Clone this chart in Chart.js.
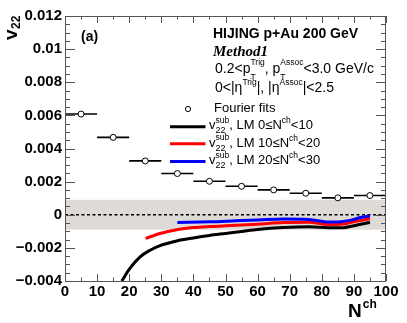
<!DOCTYPE html>
<html><head><meta charset="utf-8">
<script src="https://cdn.jsdelivr.net/npm/chart.js@4"></script>
<style>html,body{margin:0;padding:0;background:#fff;}canvas{display:block;}</style>
</head><body>
<canvas id="c" width="407" height="323"></canvas>
<script>
// ---- data ----
const fourierN = [5, 15, 25, 35, 45, 55, 65, 75, 85, 95];
const fourierV = [0.00608, 0.00467, 0.00325, 0.00249, 0.00202, 0.00172, 0.00150, 0.00130, 0.00102, 0.00116];
const fourierXErr = [5, 5, 5, 5, 5, 5, 5, 5, 5, 5];

const lm0N = [17.7, 20.2, 23.4, 26.5, 29.6, 34.8, 40, 45, 50, 55, 60, 68, 76, 82, 86, 91, 95];
const lm0V = [-0.0040, -0.00324, -0.00254, -0.00214, -0.00186, -0.00158, -0.00140, -0.00125, -0.00113, -0.00101, -0.00089, -0.00077, -0.00072, -0.00078, -0.00079, -0.00062, -0.00045];

const lm10N = [25.1, 29.6, 34.8, 40, 45, 50, 55, 60, 68, 76, 82, 86, 91, 95];
const lm10V = [-0.00143, -0.00113, -0.00090, -0.00077, -0.00071, -0.00067, -0.00062, -0.00057, -0.00047, -0.00045, -0.00059, -0.00058, -0.00038, -0.00024];

const lm20N = [35, 45, 55, 60, 68, 76, 82, 86, 90, 92, 95];
const lm20V = [-0.00047, -0.00043, -0.00035, -0.00032, -0.00026, -0.00028, -0.00044, -0.00042, -0.00028, -0.00017, -0.00008];

const bandLow = -0.0009;
const bandHigh = 0.0009;

const xTickLabels = ['0','10','20','30','40','50','60','70','80','90','100'];
const yTickLabels = ['\u22120.004','\u22120.002','0','0.002','0.004','0.006','0.008','0.01','0.012'];

// ---- helpers ----
const SANS = '"Liberation Sans", Arial, Helvetica, sans-serif';
const SERIF = '"Liberation Serif", "Times New Roman", serif';
const pts = (xs, ys) => xs.map((x, i) => ({x: x, y: ys[i]}));

function rich(ctx, x, y, parts, size, weight, opts) {
  opts = opts || {};
  const supSize = opts.supSize || size * 0.6;
  const subSize = opts.subSize || size * 0.6;
  const supUp = opts.supUp || size * 0.5;
  const subDown = opts.subDown || size * 0.5;
  ctx.textAlign = 'left';
  ctx.textBaseline = 'alphabetic';
  for (const p of parts) {
    if (typeof p === 'string') {
      ctx.font = weight + ' ' + size + 'px ' + SANS;
      ctx.fillText(p, x, y);
      x += ctx.measureText(p).width;
    } else {
      let w = 0;
      if (p.sup) {
        ctx.font = weight + ' ' + supSize + 'px ' + SANS;
        ctx.fillText(p.sup, x, y - supUp);
        w = Math.max(w, ctx.measureText(p.sup).width);
      }
      if (p.sub) {
        ctx.font = weight + ' ' + subSize + 'px ' + SANS;
        ctx.fillText(p.sub, x, y + subDown);
        w = Math.max(w, ctx.measureText(p.sub).width);
      }
      x += w;
    }
  }
  return x;
}

const decor = {
  id: 'decor',
  beforeDatasetsDraw(chart) {
    const {ctx, chartArea: a, scales: {x, y}} = chart;
    ctx.save();
    // band
    const yt = y.getPixelForValue(bandHigh), yb = y.getPixelForValue(bandLow);
    ctx.fillStyle = '#dedad6';
    ctx.fillRect(a.left, yt, a.right - a.left, yb - yt);
    // dotted zero line
    const y0 = y.getPixelForValue(0);
    ctx.strokeStyle = '#000';
    ctx.lineWidth = 1.3;
    ctx.setLineDash([3, 2.5]);
    ctx.beginPath(); ctx.moveTo(a.left, y0); ctx.lineTo(a.right, y0); ctx.stroke();
    ctx.setLineDash([]);
    // horizontal error bars
    ctx.lineWidth = 1.6;
    ctx.beginPath();
    fourierN.forEach((n, i) => {
      const py = y.getPixelForValue(fourierV[i]);
      ctx.moveTo(x.getPixelForValue(n - fourierXErr[i]), py);
      ctx.lineTo(x.getPixelForValue(n + fourierXErr[i]), py);
    });
    ctx.stroke();
    ctx.restore();
  },
  afterDraw(chart) {
    const {ctx, chartArea: a, scales: {x, y}} = chart;
    ctx.save();
    // frame
    ctx.strokeStyle = '#555';
    ctx.lineWidth = 1;
    ctx.strokeRect(a.left + 0.5, a.top + 0.5, a.right - a.left - 1, a.bottom - a.top);
    // ticks
    ctx.beginPath();
    for (let v = 0; v <= 100; v += 5) {
      const px = Math.round(x.getPixelForValue(v)) + 0.5;
      const L = (v % 10 === 0) ? 7 : 3.5;
      ctx.moveTo(px, a.bottom); ctx.lineTo(px, a.bottom - L);
      ctx.moveTo(px, a.top); ctx.lineTo(px, a.top + L);
    }
    for (let k = -8; k <= 24; k++) {
      const v = k * 0.0005;
      const py = Math.round(y.getPixelForValue(v)) + 0.5;
      const L = (k % 4 === 0) ? 10 : 5;
      ctx.moveTo(a.left, py); ctx.lineTo(a.left + L, py);
      ctx.moveTo(a.right, py); ctx.lineTo(a.right - L, py);
    }
    ctx.stroke();

    ctx.fillStyle = '#000';
    // axis titles
    ctx.save();
    ctx.translate(17, 40);
    ctx.rotate(-Math.PI / 2);
    ctx.font = 'bold 19px ' + SANS;
    ctx.textBaseline = 'alphabetic';
    ctx.fillText('v', 0, 0);
    const vw = ctx.measureText('v').width;
    ctx.font = 'bold 12px ' + SANS;
    ctx.fillText('22', vw + 0.5, 3);
    ctx.restore();

    ctx.font = 'bold 19px ' + SANS;
    ctx.fillText('N', 348, 317);
    const nw = ctx.measureText('N').width;
    ctx.font = 'bold 12px ' + SANS;
    ctx.fillText('ch', 348 + nw + 1, 308);

    // (a)
    ctx.font = 'bold 14px ' + SANS;
    ctx.fillText('(a)', 81, 41);

    // text block
    ctx.font = 'bold 14px ' + SANS;
    ctx.fillText('HIJING p+Au 200 GeV', 213, 38);
    ctx.font = 'bold italic 15px ' + SERIF;
    ctx.fillText('Method1', 213, 56);
    rich(ctx, 215, 72.5, ['0.2<p', {sup: 'Trig', sub: 'T'}, ', p', {sup: 'Assoc', sub: 'T'}, '<3.0 GeV/c'],
         14, 'normal', {supSize: 8.5, subSize: 8.5, supUp: 7.5, subDown: 7.5});
    rich(ctx, 215, 92.3, ['0<|\u03b7', {sup: 'Trig'}, '|, |\u03b7', {sup: 'Assoc'}, '|<2.5'],
         14, 'normal', {supSize: 8.5, supUp: 7.5});

    // legend
    ctx.font = 'normal 13px ' + SANS;
    ctx.fillText('Fourier fits', 214, 111.7);
    ctx.beginPath();
    ctx.lineWidth = 1;
    ctx.strokeStyle = '#000';
    ctx.fillStyle = '#fff';
    ctx.arc(188, 109, 2.6, 0, Math.PI * 2);
    ctx.fill(); ctx.stroke();
    ctx.fillStyle = '#000';

    const rows = [
      {c: '#000000', t: '0\u2264N', e: '<10', yb: 129.3, yl: 126.7},
      {c: '#ff0000', t: '10\u2264N', e: '<20', yb: 146.8, yl: 143.8},
      {c: '#0000ff', t: '20\u2264N', e: '<30', yb: 164.3, yl: 161.5}
    ];
    rows.forEach(r => {
      ctx.strokeStyle = r.c;
      ctx.lineWidth = 3;
      ctx.beginPath(); ctx.moveTo(170, r.yl); ctx.lineTo(205.5, r.yl); ctx.stroke();
      let xx = rich(ctx, 209, r.yb, ['v', {sup: 'sub', sub: '22'}], 13, 'normal',
                    {supSize: 8.5, subSize: 9, supUp: 6.5, subDown: 4});
      rich(ctx, xx, r.yb, [', LM ' + r.t, {sup: 'ch'}, r.e], 13, 'normal', {supSize: 8.5, supUp: 6});
    });
    ctx.restore();
  }
};

const lineDs = (label, xs, ys, color) => ({
  label: label, data: pts(xs, ys), showLine: true, borderColor: color, backgroundColor: color,
  borderWidth: 3, pointRadius: 0, tension: 0.4, cubicInterpolationMode: 'monotone', clip: 0
});

new Chart(document.getElementById('c'), {
  type: 'scatter',
  data: {
    datasets: [
      {label: 'Fourier fits', data: pts(fourierN, fourierV), pointRadius: 3, pointBorderWidth: 1,
       pointBackgroundColor: '#fff', pointBorderColor: '#000', showLine: false, clip: 0},
      lineDs('LM 20-30', lm20N, lm20V, '#0000ff'),
      lineDs('LM 10-20', lm10N, lm10V, '#ff0000'),
      lineDs('LM 0-10', lm0N, lm0V, '#000000')
    ]
  },
  options: {
    responsive: false, animation: false, devicePixelRatio: 1,
    layout: {padding: {left: 0, top: 16, right: 21, bottom: 0}},
    plugins: {legend: {display: false}, tooltip: {enabled: false}},
    scales: {
      x: {
        type: 'linear', min: 0, max: 100,
        grid: {display: false, drawTicks: false}, border: {display: false},
        afterFit: s => { s.height = 42; },
        afterBuildTicks: s => { s.ticks = xTickLabels.map((t, i) => ({value: i * 10})); },
        ticks: {padding: 2, maxRotation: 0, autoSkip: false, color: '#000',
                font: {family: SANS, size: 15, weight: 'bold'},
                callback: (v, i) => xTickLabels[i]}
      },
      y: {
        type: 'linear', min: -0.004, max: 0.012,
        grid: {display: false, drawTicks: false}, border: {display: false},
        afterFit: s => { s.width = 65; },
        afterBuildTicks: s => { s.ticks = yTickLabels.map((t, i) => ({value: -0.004 + i * 0.002})); },
        ticks: {padding: 3, autoSkip: false, color: '#000',
                font: {family: SANS, size: 15, weight: 'bold'},
                callback: (v, i) => yTickLabels[i]}
      }
    }
  },
  plugins: [decor]
});
</script>
</body></html>
